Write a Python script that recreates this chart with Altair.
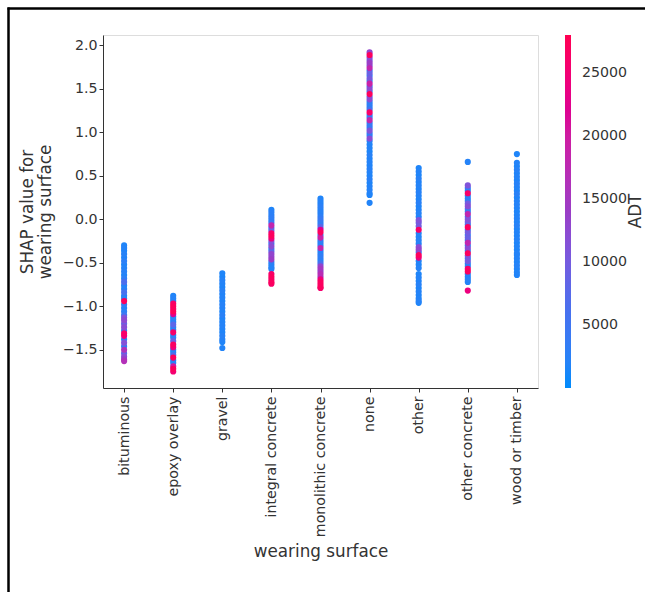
import altair as alt
import pandas as pd

categories = ["bituminous", "epoxy overlay", "gravel", "integral concrete",
              "monolithic concrete", "none", "other", "other concrete", "wood or timber"]

bituminous_shap = [-0.30, -0.33, -0.36, -0.40, -0.44, -0.48, -0.52, -0.56, -0.60, -0.64, -0.68, -0.72,
                   -0.76, -0.80, -0.84, -0.88, -0.91, -0.94, -0.98, -1.02, -1.06, -1.10, -1.13, -1.16,
                   -1.20, -1.24, -1.28, -1.31, -1.34, -1.38, -1.42, -1.46, -1.50, -1.54, -1.58, -1.61, -1.63]
bituminous_adt = [1500, 1800, 1200, 2200, 1600, 2600, 1400, 1900, 2300, 1300, 2800, 6500,
                  1700, 2100, 6000, 1500, 2400, 27000, 3200, 1800, 2500, 4500, 11000, 12500,
                  9000, 12000, 2600, 26000, 24000, 1900, 11500, 3000, 16000, 8000, 12000, 14000, 16500]

epoxy_shap = [-0.88, -0.91, -0.94, -0.97, -1.00, -1.03, -1.06, -1.09, -1.12, -1.15, -1.18, -1.21,
              -1.24, -1.27, -1.30, -1.33, -1.36, -1.40, -1.44, -1.47, -1.50, -1.53, -1.56, -1.59,
              -1.62, -1.65, -1.69, -1.72, -1.75]
epoxy_adt = [1500, 2000, 1800, 26000, 27000, 25000, 27500, 22000, 1600, 2400, 1300, 8000,
             2100, 1700, 26000, 1500, 2800, 9000, 26500, 24000, 2000, 1400, 7000, 27000,
             1800, 2300, 20000, 27000, 25000]

gravel_shap = [-0.62, -0.66, -0.70, -0.74, -0.78, -0.82, -0.86, -0.90, -0.94, -0.98, -1.02, -1.06,
               -1.10, -1.14, -1.18, -1.22, -1.26, -1.30, -1.34, -1.38, -1.41, -1.48]
gravel_adt = [1500, 1200, 2000, 1700, 1300, 2200, 1600, 1900, 1400, 2100, 1800, 1500,
              2300, 1300, 1700, 2000, 1600, 1400, 2200, 1800, 1500, 1700]

integral_shap = [0.11, 0.08, 0.05, 0.02, -0.01, -0.04, -0.07, -0.10, -0.13, -0.16, -0.19, -0.22,
                 -0.25, -0.28, -0.31, -0.34, -0.37, -0.40, -0.43, -0.46, -0.49, -0.52, -0.55, -0.57,
                 -0.63, -0.66, -0.69, -0.72, -0.74]
integral_adt = [1500, 2500, 1800, 3000, 2200, 4000, 18000, 2600, 9000, 26000, 27000, 24000,
                11000, 3000, 12000, 2000, 8000, 13000, 12500, 14000, 2500, 1500, 2000, 1800,
                26000, 27000, 25000, 27000, 26000]

monolithic_shap = [0.24, 0.21, 0.18, 0.15, 0.12, 0.09, 0.06, 0.03, 0.00, -0.03, -0.06, -0.09,
                   -0.12, -0.15, -0.18, -0.21, -0.24, -0.27, -0.30, -0.33, -0.36, -0.39, -0.42, -0.45,
                   -0.48, -0.51, -0.54, -0.57, -0.60, -0.63, -0.66, -0.69, -0.72, -0.75, -0.78, -0.79]
monolithic_adt = [1500, 2000, 1300, 2500, 1800, 2200, 1600, 2800, 4000, 1500, 3500, 8000,
                  22000, 27000, 2000, 19000, 3000, 2000, 2500, 18000, 2000, 1800, 3000, 2500,
                  1500, 6000, 13000, 15000, 12000, 17000, 14000, 24000, 27000, 26000, 27000, 25000]

none_shap = [1.92, 1.89, 1.86, 1.83, 1.80, 1.77, 1.74, 1.71, 1.68, 1.65, 1.62, 1.59,
             1.56, 1.53, 1.50, 1.47, 1.44, 1.41, 1.38, 1.35, 1.32, 1.29, 1.26, 1.23,
             1.20, 1.17, 1.14, 1.11, 1.08, 1.05, 1.02, 0.99, 0.96, 0.93, 0.90, 0.86,
             0.82, 0.78, 0.74, 0.70, 0.66, 0.62, 0.58, 0.54, 0.50, 0.46, 0.42, 0.38,
             0.34, 0.30, 0.28, 0.19]
none_adt = [13000, 27000, 12000, 10000, 14000, 11000, 18000, 3000, 9000, 2500, 10000, 2000,
            19000, 4000, 12000, 2500, 27000, 8000, 12000, 2000, 3000, 1800, 6000, 26000,
            2500, 3500, 18000, 2000, 4000, 2500, 11000, 2000, 3000, 12000, 2000, 1500,
            1800, 1300, 2200, 1600, 1900, 1400, 2100, 1700, 1500, 2300, 1300, 1800,
            2000, 1600, 1500, 1700]

other_shap = [0.59, 0.55, 0.51, 0.47, 0.43, 0.39, 0.35, 0.31, 0.27, 0.23, 0.19, 0.15,
              0.11, 0.07, 0.03, -0.01, -0.04, -0.08, -0.12, -0.16, -0.20, -0.24, -0.28, -0.32,
              -0.35, -0.38, -0.41, -0.44, -0.48, -0.52, -0.56, -0.63, -0.67, -0.71, -0.75, -0.79,
              -0.83, -0.87, -0.91, -0.94, -0.96]
other_adt = [1500, 1800, 1300, 2200, 1600, 1900, 1400, 2100, 1700, 1500, 2300, 1300,
             1800, 2000, 1600, 11000, 9000, 10000, 26000, 2000, 1500, 2200, 1800, 12000,
             13000, 2000, 27000, 24000, 1700, 1500, 2000, 1400, 1800, 1600, 2100, 1300,
             1900, 1500, 1700, 2000, 1400]

other_concrete_shap = [0.66, 0.39, 0.36, 0.33, 0.30, 0.27, 0.24, 0.21, 0.18, 0.15, 0.12, 0.09,
                       0.06, 0.03, 0.00, -0.03, -0.06, -0.09, -0.12, -0.15, -0.18, -0.21, -0.24, -0.27,
                       -0.30, -0.33, -0.36, -0.39, -0.42, -0.45, -0.48, -0.51, -0.54, -0.57, -0.60, -0.63,
                       -0.66, -0.69, -0.72, -0.82]
other_concrete_adt = [2000, 11000, 3000, 2000, 26000, 2500, 1800, 3000, 10000, 12000, 4000, 2500,
                      18000, 3500, 11000, 9000, 2000, 27000, 3000, 10000, 2500, 9000, 3000, 18000,
                      2000, 12000, 3000, 27000, 11000, 2000, 10000, 1800, 2500, 26000, 27000, 2000,
                      1500, 2200, 1800, 24000]

wood_shap = [0.75, 0.65, 0.61, 0.57, 0.53, 0.49, 0.45, 0.41, 0.37, 0.33, 0.29, 0.25,
             0.21, 0.17, 0.13, 0.09, 0.05, 0.01, -0.03, -0.07, -0.11, -0.15, -0.19, -0.23,
             -0.27, -0.31, -0.35, -0.39, -0.41, -0.45, -0.49, -0.53, -0.57, -0.61, -0.64]
wood_adt = [1500, 1800, 1300, 2200, 1600, 1900, 1400, 2100, 1700, 1500, 2300, 1300,
            1800, 2000, 1600, 1400, 1700, 1900, 1500, 2200, 1300, 1800, 1600, 2000,
            1400, 1700, 1500, 1900, 1600, 1800, 1400, 2000, 1500, 1700, 1600]

series = [
    (categories[0], bituminous_shap, bituminous_adt),
    (categories[1], epoxy_shap, epoxy_adt),
    (categories[2], gravel_shap, gravel_adt),
    (categories[3], integral_shap, integral_adt),
    (categories[4], monolithic_shap, monolithic_adt),
    (categories[5], none_shap, none_adt),
    (categories[6], other_shap, other_adt),
    (categories[7], other_concrete_shap, other_concrete_adt),
    (categories[8], wood_shap, wood_adt),
]
rows = []
for cat, ys, cs in series:
    for y, c in zip(ys, cs):
        rows.append({"surface": cat, "shap": y, "ADT": c})
df = pd.DataFrame(rows).sort_values("ADT", kind="stable")

y_ticks = [-1.5, -1.0, -0.5, 0.0, 0.5, 1.0, 1.5, 2.0]
adt_ticks = [5000, 10000, 15000, 20000, 25000]

FONT = "DejaVu Sans"
AXC = "#333333"
TICK_FS = 14.2
TITLE_FS = 16.8

points = alt.Chart(df).mark_circle(size=38, opacity=1, strokeWidth=0).encode(
    x=alt.X("surface:N", sort=categories,
            scale=alt.Scale(type="point", padding=0.43),
            axis=alt.Axis(title="wearing surface", labelAngle=-90, labelAlign="right",
                          labelBaseline="middle", labelPadding=4, labelFontSize=TICK_FS,
                          titleFontSize=TITLE_FS, titleFontWeight="normal", titlePadding=7,
                          tickSize=4, labelColor=AXC, titleColor=AXC, tickColor=AXC,
                          domainColor=AXC, grid=False, labelFont=FONT, titleFont=FONT)),
    y=alt.Y("shap:Q", scale=alt.Scale(domain=[-1.94, 2.12], nice=False, zero=False),
            axis=alt.Axis(title=["SHAP value for", "wearing surface"], values=y_ticks,
                          format=".1f", labelFontSize=TICK_FS, titleFontSize=TITLE_FS,
                          titleFontWeight="normal", titlePadding=8, tickSize=4,
                          labelColor=AXC, titleColor=AXC, tickColor=AXC, domainColor=AXC,
                          grid=False, labelFont=FONT, titleFont=FONT, titleLineHeight=18)),
    color=alt.Color("ADT:Q",
                    scale=alt.Scale(domain=[0, 28000],
                                    range=["#008bfb", "#4e6cec", "#9a3dc6", "#d4169a", "#ff0052"]),
                    legend=alt.Legend(orient="none", legendX=462, legendY=0, direction="vertical",
                                      gradientLength=353, gradientThickness=6,
                                      gradientStrokeWidth=0, values=adt_ticks, format="d",
                                      labelFontSize=TICK_FS, labelFont=FONT, labelColor=AXC,
                                      labelOffset=11, labelOverlap=False, padding=0,
                                      title=None)),
)

one_row = alt.Data(values=[{"k": 1}])
adt_title = alt.Chart(one_row).mark_text(
    text="ADT", angle=270, fontSize=TITLE_FS, font=FONT, color=AXC,
    align="center", baseline="middle").encode(
    x=alt.value(533), y=alt.value(176))

top_line = alt.Chart(one_row).mark_rule(color="black", strokeWidth=2.5).encode(
    x=alt.value(-95.5), x2=alt.value(560), y=alt.value(-26.5))
left_line = alt.Chart(one_row).mark_rule(color="black", strokeWidth=2.5).encode(
    x=alt.value(-94.5), y=alt.value(-27.5), y2=alt.value(600))

chart = alt.layer(points, adt_title, top_line, left_line).properties(
    width=435, height=353,
    padding={"left": 103, "top": 35, "right": 107, "bottom": 204},
    autosize=alt.AutoSizeParams(type="none"),
).configure_view(stroke=None).configure(background="white")

chart.save("out.html", embed_options={"renderer": "svg", "actions": False})
